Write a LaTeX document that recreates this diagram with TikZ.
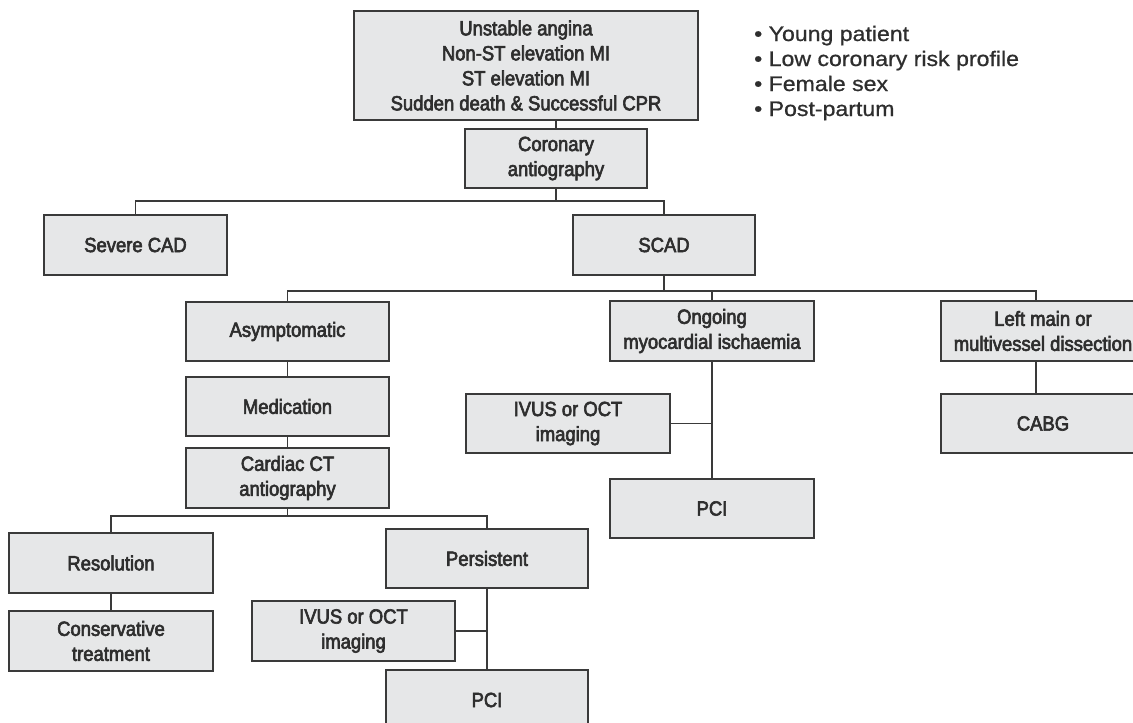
\documentclass[tikz,border=0pt]{standalone}
\usepackage{fontspec}
\newfontfamily\boxfont[FakeStretch=0.9,FakeBold=3]{Liberation Sans}
\newfontfamily\listfont[FakeStretch=1.1,FakeBold=0.8]{Liberation Sans}
\usetikzlibrary{calc}
\definecolor{boxfill}{HTML}{E6E7E8}
\definecolor{ink}{HTML}{3A3A3A}
\definecolor{txt}{HTML}{2E2E2E}
\tikzset{
  bx/.style={draw=ink, fill=boxfill, line width=1.9pt, inner sep=0pt, align=center,
    text=txt, font=\boxfont\fontsize{20.5}{25}\selectfont},
  ln/.style={draw=ink, line width=1.6pt},
  bl/.style={anchor=base west, inner sep=0pt, text=txt, font=\listfont\fontsize{21}{25}\selectfont}
}
\begin{document}
\begin{tikzpicture}[x=1pt,y=-1pt]
\useasboundingbox (0,0) rectangle (1133,723);
\clip (0,0) rectangle (1133,723);
\fill[white] (0,0) rectangle (1133,723);

\node[bx, minimum width=344pt, minimum height=109pt] (top) at (526,65.5)
  {Unstable angina\\Non-ST elevation MI\\ST elevation MI\\Sudden death \& Successful CPR};
\node[bx, minimum width=182pt, minimum height=59pt] (cor) at (556,158.5) {Coronary\\antiography};
\node[bx, minimum width=183pt, minimum height=60pt] (sev) at (135.5,245) {Severe CAD};
\node[bx, minimum width=182pt, minimum height=60pt] (scad) at (664,245) {SCAD};
\node[bx, minimum width=203pt, minimum height=59pt] (asym) at (287.5,331.5) {Asymptomatic};
\node[bx, minimum width=203pt, minimum height=59pt] (med) at (287.5,406.5) {Medication};
\node[bx, minimum width=203pt, minimum height=60pt] (ct) at (287.5,478) {Cardiac CT\\antiography};
\node[bx, minimum width=204pt, minimum height=60pt] (res) at (111,563) {Resolution};
\node[bx, minimum width=204pt, minimum height=60pt] (cons) at (111,641) {Conservative\\treatment};
\node[bx, minimum width=202pt, minimum height=59pt] (pers) at (487,558.5) {Persistent};
\node[bx, minimum width=203pt, minimum height=60pt] (ivusb) at (353.5,631) {IVUS or OCT\\imaging};
\node[bx, minimum width=202pt, minimum height=60pt] (pcib) at (487,700) {PCI};
\node[bx, minimum width=204pt, minimum height=60pt] (ong) at (712,331) {Ongoing\\myocardial ischaemia};
\node[bx, minimum width=204pt, minimum height=59pt] (ivusa) at (568,423.5) {IVUS or OCT\\imaging};
\node[bx, minimum width=204pt, minimum height=59pt] (pcia) at (712,508.5) {PCI};
\node[bx, minimum width=204pt, minimum height=60pt] (lm) at (1043,331) {Left main or\\multivessel dissection};
\node[bx, minimum width=204pt, minimum height=59pt] (cabg) at (1043,423.5) {CABG};

\coordinate (j1) at (556,201);
\coordinate (j2) at (664,291);
\coordinate (j3) at (287.5,516);
\coordinate (lmn) at ($(lm.north)+(-7,0)$);
\coordinate (lms) at ($(lm.south)+(-7,0)$);

\draw[ln] (cor.north) -- (cor.north |- top.south);
\draw[ln] (cor.south) -- (j1);
\draw[ln] (sev.north) -- (sev.north |- j1) -- (scad.north |- j1) -- (scad.north);
\draw[ln] (scad.south) -- (j2);
\draw[ln] (asym.north) -- (asym.north |- j2) -- (lmn |- j2) -- (lmn);
\draw[ln] (ong.north) -- (ong.north |- j2);
\draw[ln] (ong.south) -- (pcia.north);
\draw[ln] (ivusa.east) -- (ivusa.east -| ong.south);
\draw[ln] (lms) -- (lms |- cabg.north);
\draw[ln] (asym.south) -- (med.north);
\draw[ln] (med.south) -- (ct.north);
\draw[ln] (ct.south) -- (j3);
\draw[ln] (res.north) -- (res.north |- j3) -- (pers.north |- j3) -- (pers.north);
\draw[ln] (res.south) -- (cons.north);
\draw[ln] (pers.south) -- (pcib.north);
\draw[ln] (ivusb.east) -- (ivusb.east -| pers.south);

\node[bl] (b1) at (754,41) {• Young patient};
\node[bl] (b2) at (754,66) {• Low coronary risk profile};
\node[bl] (b3) at (754,91) {• Female sex};
\node[bl] (b4) at (754,116) {• Post-partum};
\end{tikzpicture}
\end{document}
